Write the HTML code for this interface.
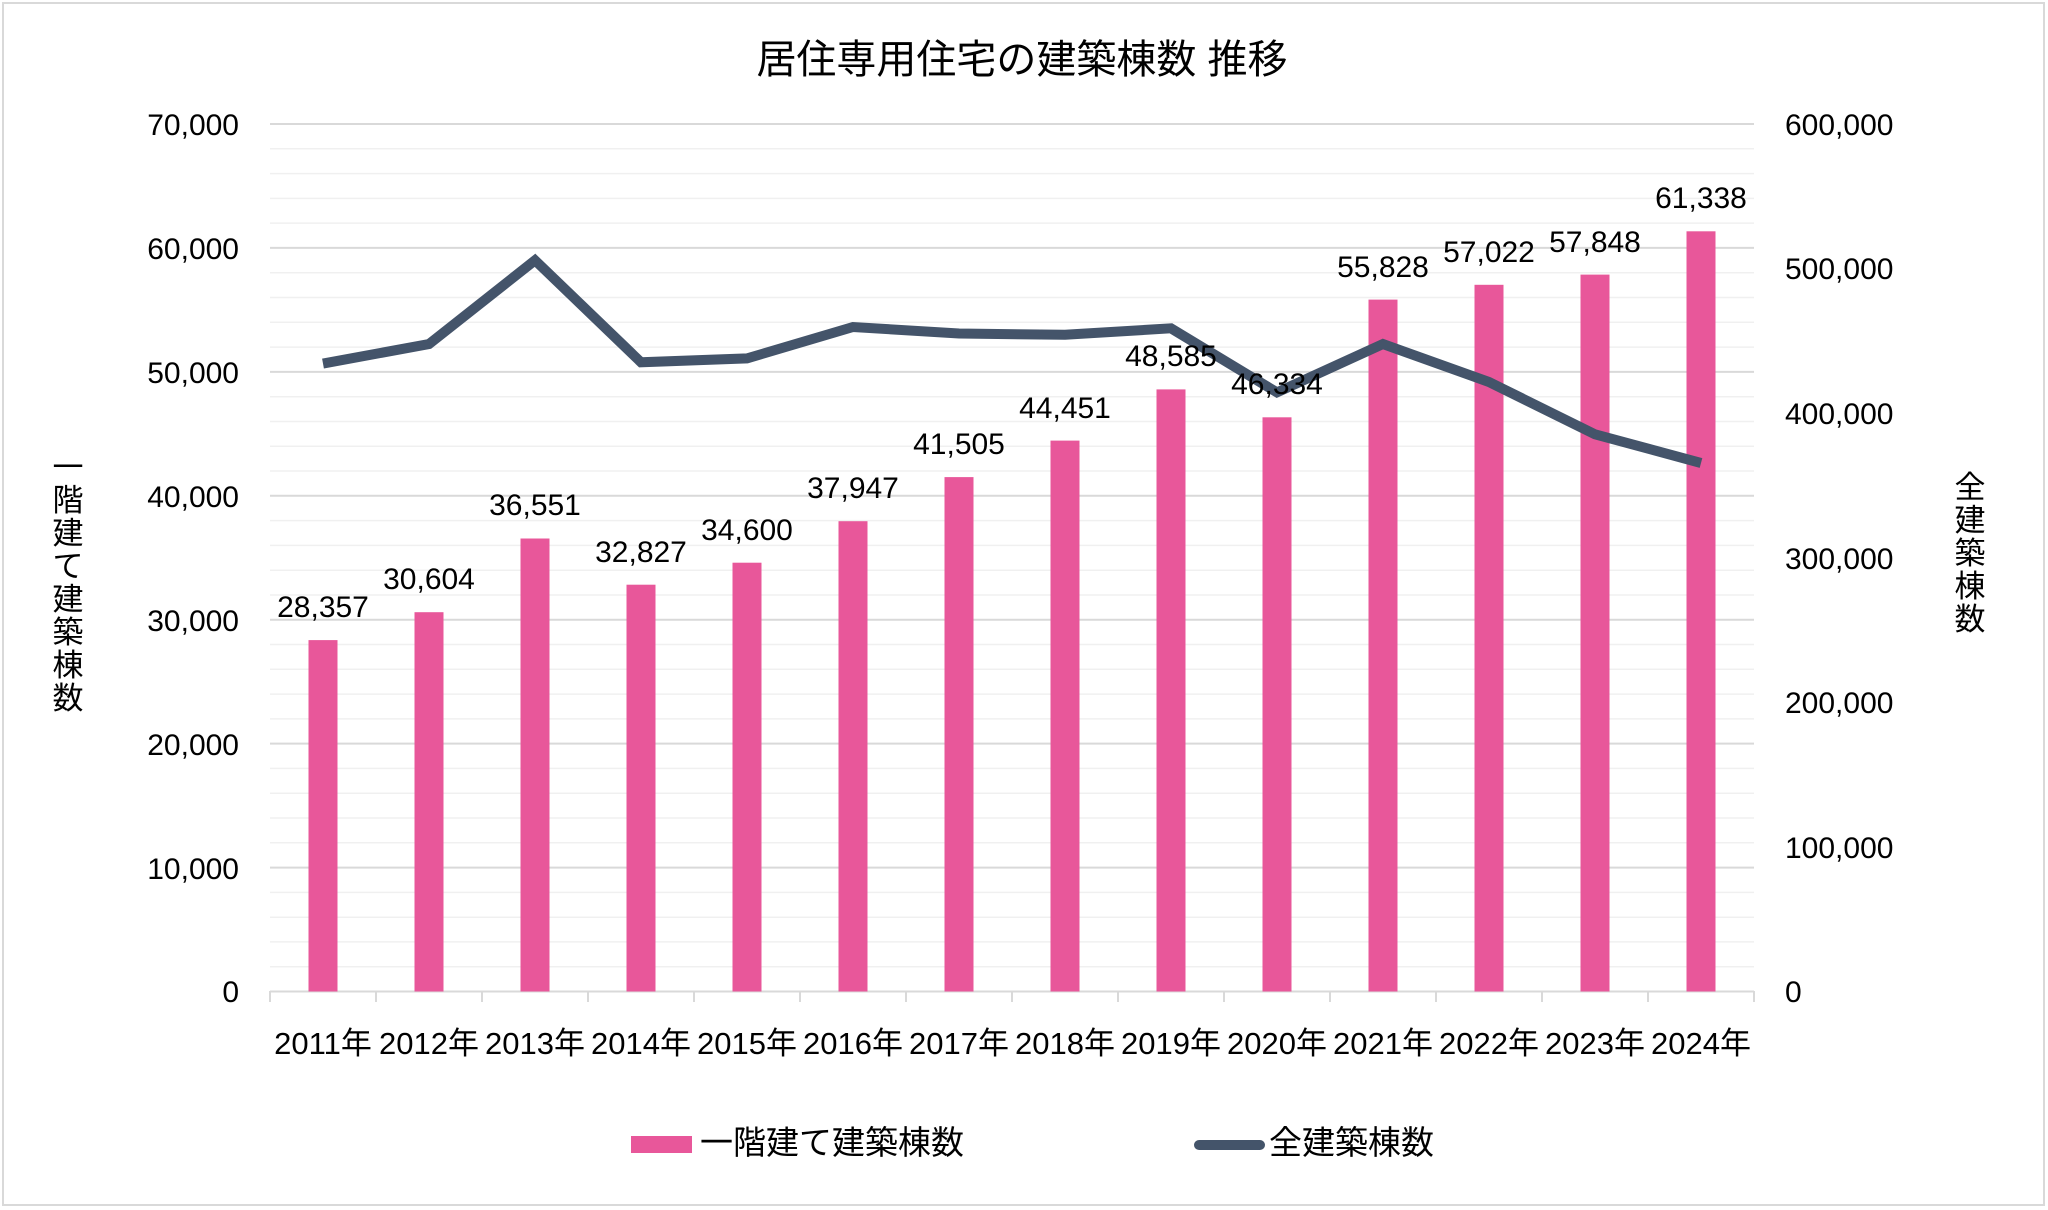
<!DOCTYPE html>
<html><head><meta charset="utf-8"><style>
html,body{margin:0;padding:0;background:#fff;}
svg{display:block;}
text{font-family:"Liberation Sans","Noto Sans CJK JP",sans-serif;fill:#000;}
</style></head><body>
<svg width="2048" height="1210" viewBox="0 0 2048 1210" xmlns="http://www.w3.org/2000/svg">
<rect x="3" y="3" width="2041" height="1202" fill="#fff" stroke="#d9d9d9" stroke-width="2"/>
<text x="1022" y="73" font-size="40" text-anchor="middle">居住専用住宅の建築棟数 推移</text>
<g stroke="#f0f0f0" stroke-width="1.5">
<line x1="270" x2="1754" y1="148.8" y2="148.8"/><line x1="270" x2="1754" y1="173.6" y2="173.6"/><line x1="270" x2="1754" y1="198.4" y2="198.4"/><line x1="270" x2="1754" y1="223.1" y2="223.1"/>
<line x1="270" x2="1754" y1="272.7" y2="272.7"/><line x1="270" x2="1754" y1="297.5" y2="297.5"/><line x1="270" x2="1754" y1="322.3" y2="322.3"/><line x1="270" x2="1754" y1="347.1" y2="347.1"/>
<line x1="270" x2="1754" y1="396.7" y2="396.7"/><line x1="270" x2="1754" y1="421.5" y2="421.5"/><line x1="270" x2="1754" y1="446.2" y2="446.2"/><line x1="270" x2="1754" y1="471" y2="471"/>
<line x1="270" x2="1754" y1="520.6" y2="520.6"/><line x1="270" x2="1754" y1="545.4" y2="545.4"/><line x1="270" x2="1754" y1="570.2" y2="570.2"/><line x1="270" x2="1754" y1="595" y2="595"/>
<line x1="270" x2="1754" y1="644.5" y2="644.5"/><line x1="270" x2="1754" y1="669.3" y2="669.3"/><line x1="270" x2="1754" y1="694.1" y2="694.1"/><line x1="270" x2="1754" y1="718.9" y2="718.9"/>
<line x1="270" x2="1754" y1="768.4" y2="768.4"/><line x1="270" x2="1754" y1="793.2" y2="793.2"/><line x1="270" x2="1754" y1="818" y2="818"/><line x1="270" x2="1754" y1="842.8" y2="842.8"/>
<line x1="270" x2="1754" y1="892.4" y2="892.4"/><line x1="270" x2="1754" y1="917.2" y2="917.2"/><line x1="270" x2="1754" y1="941.9" y2="941.9"/><line x1="270" x2="1754" y1="966.7" y2="966.7"/>
</g>
<g stroke="#d9d9d9" stroke-width="2">
<line x1="270" x2="1754" y1="124" y2="124"/><line x1="270" x2="1754" y1="247.9" y2="247.9"/><line x1="270" x2="1754" y1="371.9" y2="371.9"/><line x1="270" x2="1754" y1="495.8" y2="495.8"/><line x1="270" x2="1754" y1="619.7" y2="619.7"/><line x1="270" x2="1754" y1="743.6" y2="743.6"/><line x1="270" x2="1754" y1="867.6" y2="867.6"/>
<line x1="270" x2="1754" y1="991.5" y2="991.5"/>
<line x1="270" x2="270" y1="991" y2="1002"/><line x1="376" x2="376" y1="991" y2="1002"/><line x1="482" x2="482" y1="991" y2="1002"/><line x1="588" x2="588" y1="991" y2="1002"/><line x1="694" x2="694" y1="991" y2="1002"/><line x1="800" x2="800" y1="991" y2="1002"/><line x1="906" x2="906" y1="991" y2="1002"/><line x1="1012" x2="1012" y1="991" y2="1002"/><line x1="1118" x2="1118" y1="991" y2="1002"/><line x1="1224" x2="1224" y1="991" y2="1002"/><line x1="1330" x2="1330" y1="991" y2="1002"/><line x1="1436" x2="1436" y1="991" y2="1002"/><line x1="1542" x2="1542" y1="991" y2="1002"/><line x1="1648" x2="1648" y1="991" y2="1002"/><line x1="1754" x2="1754" y1="991" y2="1002"/>
</g>
<g font-size="30" text-anchor="end">
<text x="239" y="135">70,000</text><text x="239" y="259">60,000</text><text x="239" y="383">50,000</text><text x="239" y="507">40,000</text><text x="239" y="631">30,000</text><text x="239" y="755">20,000</text><text x="239" y="879">10,000</text><text x="239" y="1002">0</text>
</g>
<g font-size="30">
<text x="1785" y="135">600,000</text><text x="1785" y="279">500,000</text><text x="1785" y="424">400,000</text><text x="1785" y="569">300,000</text><text x="1785" y="713">200,000</text><text x="1785" y="858">100,000</text><text x="1785" y="1002">0</text>
</g>
<g font-size="31" text-anchor="middle">
<text x="68" y="478">一</text><text x="68" y="511">階</text><text x="68" y="544">建</text><text x="68" y="577">て</text><text x="68" y="610">建</text><text x="68" y="643">築</text><text x="68" y="676">棟</text><text x="68" y="709">数</text>
<text x="1970" y="498">全</text><text x="1970" y="531">建</text><text x="1970" y="564">築</text><text x="1970" y="597">棟</text><text x="1970" y="630">数</text>
</g>
<g fill="#e8579a">
<rect x="308.5" y="640.1" width="29" height="351.4"/><rect x="414.5" y="612.2" width="29" height="379.3"/><rect x="520.5" y="538.5" width="29" height="453"/><rect x="626.5" y="584.7" width="29" height="406.8"/><rect x="732.5" y="562.7" width="29" height="428.8"/><rect x="838.5" y="521.2" width="29" height="470.3"/><rect x="944.5" y="477.1" width="29" height="514.4"/><rect x="1050.5" y="440.6" width="29" height="550.9"/><rect x="1156.5" y="389.4" width="29" height="602.1"/><rect x="1262.5" y="417.3" width="29" height="574.2"/><rect x="1368.5" y="299.6" width="29" height="691.9"/><rect x="1474.5" y="284.8" width="29" height="706.7"/><rect x="1580.5" y="274.6" width="29" height="716.9"/><rect x="1686.5" y="231.3" width="29" height="760.2"/>
</g>
<polyline fill="none" stroke="#44546a" stroke-width="10" stroke-linejoin="miter" points="323,363.6 429,344 535,260.3 641,362.3 747,358.4 853,327 959,333.5 1065,334.8 1171,328.3 1277,392.4 1383,344 1489,382 1595,434.3 1701,463"/>
<g font-size="30" text-anchor="middle">
<text x="323" y="617">28,357</text><text x="429" y="589">30,604</text><text x="535" y="515">36,551</text><text x="641" y="562">32,827</text><text x="747" y="540">34,600</text><text x="853" y="498">37,947</text><text x="959" y="454">41,505</text><text x="1065" y="418">44,451</text><text x="1171" y="366">48,585</text><text x="1277" y="394">46,334</text><text x="1383" y="277">55,828</text><text x="1489" y="262">57,022</text><text x="1595" y="252">57,848</text><text x="1701" y="208">61,338</text>
</g>
<g font-size="31" text-anchor="middle">
<text x="323" y="1054">2011年</text><text x="429" y="1054">2012年</text><text x="535" y="1054">2013年</text><text x="641" y="1054">2014年</text><text x="747" y="1054">2015年</text><text x="853" y="1054">2016年</text><text x="959" y="1054">2017年</text><text x="1065" y="1054">2018年</text><text x="1171" y="1054">2019年</text><text x="1277" y="1054">2020年</text><text x="1383" y="1054">2021年</text><text x="1489" y="1054">2022年</text><text x="1595" y="1054">2023年</text><text x="1701" y="1054">2024年</text>
</g>
<rect x="631" y="1136" width="61" height="17" fill="#e8579a"/>
<text x="700" y="1154" font-size="33">一階建て建築棟数</text>
<line x1="1199" x2="1260" y1="1145" y2="1145" stroke="#44546a" stroke-width="10" stroke-linecap="round"/>
<text x="1269" y="1154" font-size="33">全建築棟数</text>
</svg>
</body></html>
